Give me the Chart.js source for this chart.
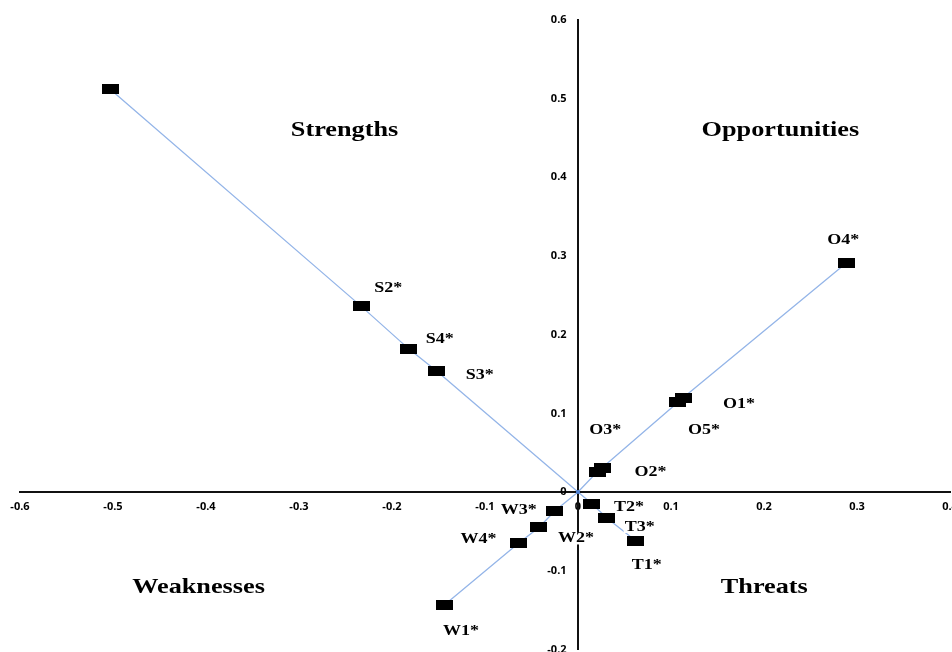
<!DOCTYPE html>
<html>
<head>
<meta charset="utf-8">
<script src="https://cdn.jsdelivr.net/npm/chart.js@4.4.1/dist/chart.umd.min.js"></script>
<style>
  html, body { margin: 0; padding: 0; background: #fff; overflow: hidden; }
  #wrap { width: 959px; height: 659px; position: relative; }
</style>
</head>
<body>
<div id="wrap"><canvas id="swot"></canvas></div>
<script>
// SWOT factor coordinates.
var strengthLabels = ['', 'S2*', 'S4*', 'S3*'];
var strengthX = [-0.503, -0.233, -0.182, -0.152];
var strengthY = [0.512, 0.236, 0.182, 0.154];

var threatLabels = ['T2*', 'T3*', 'T1*'];
var threatX = [0.015, 0.031, 0.062];
var threatY = [-0.015, -0.033, -0.062];

var weakLabels = ['W1*', 'W4*', 'W2*', 'W3*'];
var weakX = [-0.144, -0.064, -0.042, -0.025];
var weakY = [-0.144, -0.065, -0.045, -0.024];

var oppLabels = ['O2*', 'O3*', 'O5*', 'O1*', 'O4*'];
var oppX = [0.021, 0.026, 0.1075, 0.113, 0.2885];
var oppY = [0.026, 0.031, 0.114, 0.12, 0.291];

var quadrantNames = ['Strengths', 'Opportunities', 'Weaknesses', 'Threats'];
var quadrantX = [-0.251, 0.2176, -0.408, 0.2003];
var quadrantY = [0.46, 0.46, -0.122, -0.122];

function pts(xs, ys) {
  return xs.map(function(x, i) { return { x: x, y: ys[i] }; });
}

var origin = [{ x: 0, y: 0 }];
var line1 = pts(strengthX, strengthY).concat(origin, pts(threatX, threatY));
var line2 = pts(weakX, weakY).concat(origin, pts(oppX, oppY));
var markerPts = [].concat(pts(strengthX, strengthY), pts(threatX, threatY), pts(weakX, weakY), pts(oppX, oppY));
var markerLabels = [].concat(strengthLabels, threatLabels, weakLabels, oppLabels);

// black bar marker, wider than tall
var bar = document.createElement('canvas');
bar.width = 17; bar.height = 10;
var bctx = bar.getContext('2d');
bctx.fillStyle = '#000';
bctx.fillRect(0, 0, 17, 10);

// label offsets in px from the marker centre
var labelOffsets = {
  'S2*': [27, -18], 'S4*': [31, -10], 'S3*': [43, 4],
  'T2*': [37, 3], 'T3*': [33, 9], 'T1*': [11, 24],
  'W1*': [17, 26], 'W4*': [-40, -4], 'W2*': [37, 11], 'W3*': [-36, -1],
  'O2*': [53, 1], 'O3*': [3, -38], 'O5*': [26, 28], 'O1*': [56, 6], 'O4*': [-3, -23]
};

function stretchedText(ctx, text, x, y, sx, bg) {
  ctx.save();
  ctx.translate(x, y);
  ctx.scale(sx, 1);
  if (bg) {
    var w = ctx.measureText(text).width;
    ctx.fillStyle = '#fff';
    ctx.fillRect(-w / 2 - 1, -6, w + 2, 12);
    ctx.fillStyle = '#000';
  }
  ctx.fillText(text, 0, 0);
  ctx.restore();
}

var swotText = {
  id: 'swotText',
  afterDatasetsDraw: function(chart) {
    var ctx = chart.ctx, xs = chart.scales.x, ys = chart.scales.y;
    ctx.save();
    ctx.fillStyle = '#000';
    ctx.textAlign = 'center';
    ctx.textBaseline = 'middle';
    ctx.font = 'bold 15px "Liberation Serif", "Times New Roman", serif';
    markerPts.forEach(function(p, i) {
      var lbl = markerLabels[i];
      if (!lbl) return;
      var off = labelOffsets[lbl];
      stretchedText(ctx, lbl, xs.getPixelForValue(p.x) + off[0], ys.getPixelForValue(p.y) + off[1], 1.2, true);
    });
    ctx.font = 'bold 21px "Liberation Serif", "Times New Roman", serif';
    quadrantNames.forEach(function(q, i) {
      stretchedText(ctx, q, xs.getPixelForValue(quadrantX[i]), ys.getPixelForValue(quadrantY[i]), 1.25, false);
    });
    ctx.restore();
  }
};

var tickFont = { family: '"Open Sans", sans-serif', size: 11, weight: 'bold' };

new Chart(document.getElementById('swot'), {
  type: 'scatter',
  data: {
    datasets: [
      { data: markerPts, pointStyle: bar, pointRadius: 8, pointHoverRadius: 8, order: 0 },
      { data: origin, pointStyle: 'rect', pointRadius: 2.5, backgroundColor: '#4a7fd4', borderColor: '#4a7fd4', borderWidth: 0, order: 1 },
      { data: line1, showLine: true, borderColor: '#94b5e8', borderWidth: 1.3, pointRadius: 0, order: 2 },
      { data: line2, showLine: true, borderColor: '#94b5e8', borderWidth: 1.3, pointRadius: 0, order: 2 }
    ]
  },
  options: {
    responsive: true, maintainAspectRatio: false, animation: false,
    layout: { padding: { left: 20, right: 0, top: 20, bottom: 0 } },
    plugins: { legend: { display: false }, tooltip: { enabled: false } },
    scales: {
      x: {
        type: 'linear', position: { y: 0 }, min: -0.6, max: 0.4, z: 1,
        grid: { display: false },
        border: { display: true, color: '#111', width: 2 },
        ticks: { stepSize: 0.1, font: tickFont, color: '#000', padding: 0,
          showLabelBackdrop: true, backdropColor: '#fff', backdropPadding: 1 }
      },
      y: {
        type: 'linear', position: { x: 0 }, min: -0.2, max: 0.6,
        grid: { display: false },
        border: { display: true, color: '#111', width: 2 },
        ticks: { stepSize: 0.1, font: tickFont, color: '#000',
          // object-positioned axes ignore tick padding, so pad with spaces
          callback: function(v) { return Chart.Ticks.formatters.numeric.apply(this, arguments) + '    '; } }
      }
    }
  },
  plugins: [swotText]
});
</script>
</body>
</html>
